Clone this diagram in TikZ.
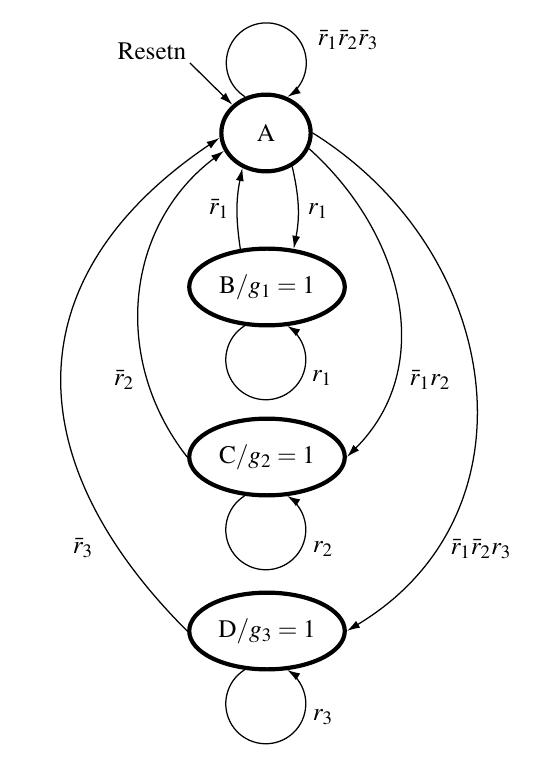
\documentclass[12pt,tikz,border=0pt]{standalone}
\usepackage[T1]{fontenc}
\usepackage{mathptmx}
\usetikzlibrary{arrows.meta,shapes.geometric}

\begin{document}
\begin{tikzpicture}[x=0.01673cm,y=-0.01673cm,
    >={Latex[length=6.2pt,width=3.8pt]},
    every node/.style={inner sep=0pt},
    state/.style={ellipse,draw,line width=2pt,minimum width=74pt,minimum height=36.5pt},
    edge/.style={->,line width=0.6pt}]
    \useasboundingbox (0,0) rectangle (536,776);
    \node[state,minimum width=42.5pt] (A) at (266,133) {A};
    \node[state] (B) at (267,287) {B$/g_1=1$};
    \node[state] (C) at (267,457) {C$/g_2=1$};
    \node[state] (D) at (267,631) {D$/g_3=1$};
    \node[inner sep=1.5pt] (reset) at (152,51) {Resetn};
    % loops
    \draw[edge] (A.120) arc[start angle=238,end angle=-58,radius=0.669cm];
    \draw[edge] (B.-120) arc[start angle=122,end angle=418,radius=0.669cm];
    \draw[edge] (C.-120) arc[start angle=122,end angle=418,radius=0.669cm];
    \draw[edge] (D.-120) arc[start angle=122,end angle=418,radius=0.669cm];
    % transitions
    \draw[edge] (reset.south east) -- (A.140);
    \draw[edge] (A.-52) to[bend left=12] (B.55);
    \draw[edge] (B.125) to[bend left=10] (A.-124);
    \draw[edge] (A.-20) to[out=-42,in=45,looseness=1.05] (C.east);
    \draw[edge] (A.east) to[out=-32,in=31,looseness=1.16] (D.east);
    \draw[edge] (C.west) to[out=128,in=-143,looseness=1.03] (A.-157);
    \draw[edge] (D.west) to[out=135,in=-146,looseness=1.27] (A.-174);
    % labels
    \node (lA) at (348,40) {$\bar r_1\bar r_2\bar r_3$};
    \node (lAB) at (318,211) {$r_1$};
    \node (lBA) at (219,209) {$\bar r_1$};
    \node (lB) at (322,378) {$r_1$};
    \node (lC) at (323,549) {$r_2$};
    \node (lD) at (323,717) {$r_3$};
    \node (lCA) at (124,380) {$\bar r_2$};
    \node (lAC) at (430,380) {$\bar r_1r_2$};
    \node (lDA) at (83,548) {$\bar r_3$};
    \node (lAD) at (481,549) {$\bar r_1\bar r_2r_3$};
\end{tikzpicture}
\end{document}
